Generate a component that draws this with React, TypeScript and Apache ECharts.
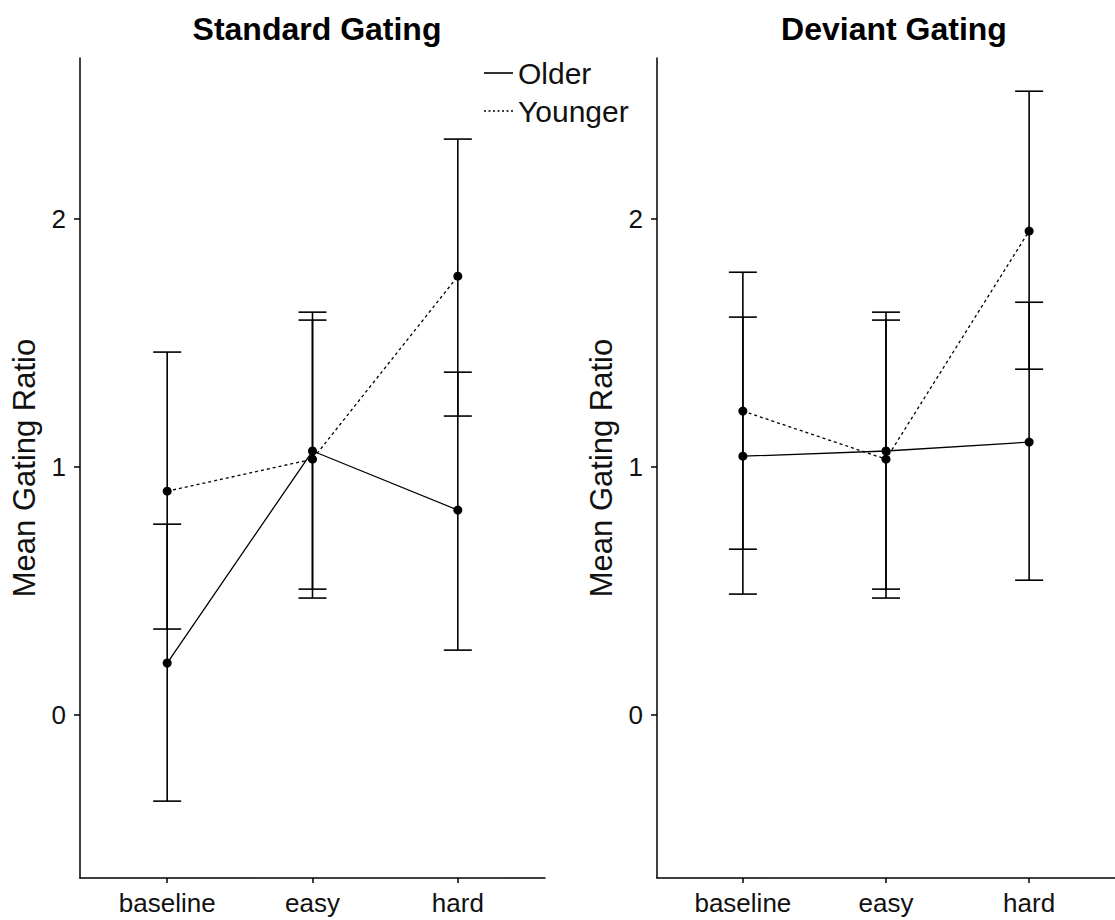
import React, { useEffect, useRef } from "react";
import * as echarts from "echarts";

const categories = ["baseline", "easy", "hard"];
const yTicks = [0, 1, 2];

// Standard Gating panel
const stdOlderMean = [0.21, 1.065, 0.827];
const stdOlderLow = [-0.347, 0.508, 0.262];
const stdOlderHigh = [0.77, 1.625, 1.383];
const stdYoungerMean = [0.903, 1.032, 1.77];
const stdYoungerLow = [0.347, 0.472, 1.206];
const stdYoungerHigh = [1.464, 1.593, 2.323];

// Deviant Gating panel
const devOlderMean = [1.044, 1.065, 1.101];
const devOlderLow = [0.488, 0.508, 0.544];
const devOlderHigh = [1.605, 1.625, 1.665];
const devYoungerMean = [1.226, 1.032, 1.952];
const devYoungerLow = [0.669, 0.472, 1.395];
const devYoungerHigh = [1.786, 1.593, 2.516];

const FONT = "Liberation Sans, Arial, sans-serif";
const TXT = "#111";

const pts = (m: number[]) => m.map((v, i) => [i + 1, v]);
const bars = (lo: number[], hi: number[]) => lo.map((v, i) => [i + 1, v, hi[i]]);

function errorRender(params: any, api: any) {
  const x = api.value(0);
  const lo = api.coord([x, api.value(1)]);
  const hi = api.coord([x, api.value(2)]);
  const w = 14;
  const st = { stroke: "#000", lineWidth: 1.6 };
  return {
    type: "group",
    children: [
      { type: "line", shape: { x1: lo[0], y1: lo[1], x2: hi[0], y2: hi[1] }, style: st },
      { type: "line", shape: { x1: lo[0] - w, y1: lo[1], x2: lo[0] + w, y2: lo[1] }, style: st },
      { type: "line", shape: { x1: hi[0] - w, y1: hi[1], x2: hi[0] + w, y2: hi[1] }, style: st },
    ],
  };
}

function xAxis(gridIndex: number) {
  return {
    type: "value",
    gridIndex,
    min: 0.4,
    max: 3.6,
    splitLine: { show: false },
    axisLine: { show: true, onZero: false, lineStyle: { color: "#000", width: 1.5 } },
    axisTick: { show: true, length: 5, customValues: [1, 2, 3], lineStyle: { color: "#000", width: 1.5 } },
    axisLabel: {
      customValues: [1, 2, 3],
      formatter: (v: number) => categories[Math.round(v) - 1] ?? "",
      fontFamily: FONT,
      fontSize: 26,
      color: TXT,
      margin: 12,
    },
  };
}

function yAxis(gridIndex: number) {
  return {
    type: "value",
    gridIndex,
    min: -0.657,
    max: 2.65,
    name: "Mean Gating Ratio",
    nameLocation: "middle",
    nameGap: 40,
    nameRotate: 90,
    nameTextStyle: { fontFamily: FONT, fontSize: 31, color: TXT },
    splitLine: { show: false },
    axisLine: { show: true, onZero: false, lineStyle: { color: "#000", width: 1.5 } },
    axisTick: { show: true, length: 6, customValues: yTicks, lineStyle: { color: "#000", width: 1.5 } },
    axisLabel: {
      customValues: yTicks,
      fontFamily: FONT,
      fontSize: 26,
      color: TXT,
      margin: 14,
    },
  };
}

function panelSeries(
  idx: number,
  oMean: number[], oLo: number[], oHi: number[],
  yMean: number[], yLo: number[], yHi: number[]
) {
  const common = { xAxisIndex: idx, yAxisIndex: idx };
  return [
    { ...common, type: "custom", renderItem: errorRender, data: bars(oLo, oHi), encode: { x: 0, y: [1, 2] }, z: 2 },
    { ...common, type: "custom", renderItem: errorRender, data: bars(yLo, yHi), encode: { x: 0, y: [1, 2] }, z: 2 },
    {
      ...common,
      type: "line",
      name: "Older",
      data: pts(oMean),
      symbol: "circle",
      symbolSize: 9,
      itemStyle: { color: "#000" },
      lineStyle: { color: "#000", width: 1.3, type: "solid" },
      z: 3,
    },
    {
      ...common,
      type: "line",
      name: "Younger",
      data: pts(yMean),
      symbol: "circle",
      symbolSize: 9,
      itemStyle: { color: "#000" },
      lineStyle: { color: "#000", width: 1.3, type: [3, 3] },
      z: 3,
    },
  ];
}

export default function App() {
  const ref = useRef<HTMLDivElement>(null);
  useEffect(() => {
    if (!ref.current) return;
    const chart = echarts.init(ref.current, null, { renderer: "svg" });
    chart.setOption({
      animation: false,
      backgroundColor: "#fff",
      title: [
        {
          text: "Standard Gating",
          left: 312,
          top: 8,
          textAlign: "center",
          textStyle: { fontFamily: FONT, fontSize: 32, fontWeight: "bold", color: "#000" },
        },
        {
          text: "Deviant Gating",
          left: 889,
          top: 8,
          textAlign: "center",
          textStyle: { fontFamily: FONT, fontSize: 32, fontWeight: "bold", color: "#000" },
        },
      ],
      grid: [
        { left: 80, top: 58, width: 465, height: 820 },
        { left: 657, top: 58, width: 465, height: 820 },
      ],
      xAxis: [xAxis(0), xAxis(1)],
      yAxis: [yAxis(0), yAxis(1)],
      series: [
        ...panelSeries(0, stdOlderMean, stdOlderLow, stdOlderHigh, stdYoungerMean, stdYoungerLow, stdYoungerHigh),
        ...panelSeries(1, devOlderMean, devOlderLow, devOlderHigh, devYoungerMean, devYoungerLow, devYoungerHigh),
      ],
      graphic: [
        { type: "line", shape: { x1: 484, y1: 73, x2: 513, y2: 73 }, style: { stroke: "#000", lineWidth: 1.6 } },
        { type: "line", shape: { x1: 484, y1: 111, x2: 513, y2: 111 }, style: { stroke: "#000", lineWidth: 1.6, lineDash: [2, 2.5] } },
        { type: "text", x: 518, y: 73, style: { text: "Older", fontFamily: FONT, fontSize: 30, fill: TXT, verticalAlign: "middle" } },
        { type: "text", x: 518, y: 111, style: { text: "Younger", fontFamily: FONT, fontSize: 30, fill: TXT, verticalAlign: "middle" } },
      ],
    });
    return () => chart.dispose();
  }, []);
  return (
    <div
      ref={ref}
      style={{ position: "absolute", left: 0, top: 0, width: 1115, height: 920 }}
    />
  );
}
